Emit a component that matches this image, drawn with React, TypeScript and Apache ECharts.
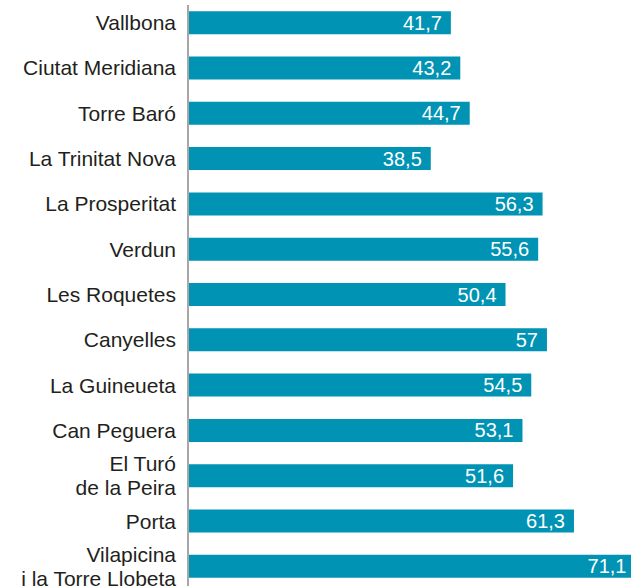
import React, { useEffect, useRef } from "react";
import * as echarts from "echarts";

const categories: string[] = [
  "Vallbona",
  "Ciutat Meridiana",
  "Torre Baró",
  "La Trinitat Nova",
  "La Prosperitat",
  "Verdun",
  "Les Roquetes",
  "Canyelles",
  "La Guineueta",
  "Can Peguera",
  "El Turó\nde la Peira",
  "Porta",
  "Vilapicina\ni la Torre Llobeta",
];

const values: number[] = [41.7, 43.2, 44.7, 38.5, 56.3, 55.6, 50.4, 57, 54.5, 53.1, 51.6, 61.3, 71.1];

const FONT = "'Liberation Sans', Arial, Helvetica, sans-serif";

export default function App() {
  const ref = useRef<HTMLDivElement>(null);
  useEffect(() => {
    if (!ref.current) return;
    const chart = echarts.init(ref.current, undefined, { renderer: "svg" });
    chart.setOption({
      animation: false,
      grid: { left: 189, top: -1, width: 502.4, height: 590, containLabel: false },
      xAxis: { type: "value", min: 0, max: 80, show: false },
      yAxis: {
        type: "category",
        inverse: true,
        data: categories,
        axisLine: { show: false },
        axisTick: { show: false },
        axisLabel: {
          margin: 13,
          fontSize: 21,
          fontFamily: FONT,
          color: "#231f20",
          lineHeight: 24,
        },
      },
      graphic: [
        {
          type: "line",
          shape: { x1: 188, y1: 5, x2: 188, y2: 600 },
          style: { stroke: "#8a8a8a", lineWidth: 1.5 },
          z: 10,
        },
      ],
      series: [
        {
          type: "bar",
          data: values,
          barWidth: 23,
          itemStyle: { color: "#0093b4" },
          label: {
            show: true,
            position: "insideRight",
            distance: 9,
            color: "#ffffff",
            fontSize: 20,
            fontFamily: FONT,
            formatter: (p: any) => String(p.value).replace(".", ","),
          },
        },
      ],
    });
    return () => chart.dispose();
  }, []);
  return (
    <div
      style={{
        position: "fixed",
        top: 0,
        left: 0,
        width: 631,
        height: 586,
        overflow: "hidden",
        background: "#fff",
      }}
    >
      <div ref={ref} style={{ width: 700, height: 600 }} />
    </div>
  );
}
